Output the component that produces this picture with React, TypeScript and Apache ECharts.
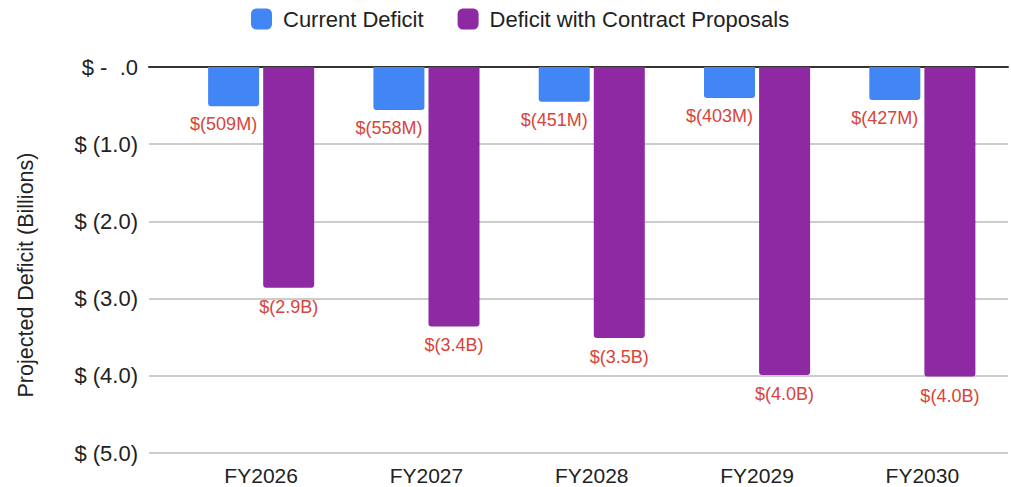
import React, { useEffect, useRef } from "react";
import * as echarts from "echarts";

const categories = ["FY2026", "FY2027", "FY2028", "FY2029", "FY2030"];
const currentDeficit = [-0.509, -0.558, -0.451, -0.403, -0.427];
const proposalDeficit = [-2.86, -3.36, -3.51, -3.99, -4.01];
const seriesNames = ["Current Deficit", "Deficit with Contract Proposals"];
const yTicks = [0, -1, -2, -3, -4, -5];

const FONT = "'Liberation Sans', Arial, sans-serif";

function yLabel(v: number): string {
  if (v === 0) return "$ -  .0";
  return "$ (" + Math.abs(v).toFixed(1) + ")";
}

export default function App() {
  const ref = useRef<HTMLDivElement>(null);
  useEffect(() => {
    if (!ref.current) return;
    const chart = echarts.init(ref.current, undefined, { renderer: "svg" });
    const yMin = yTicks[yTicks.length - 1];
    const yMax = yTicks[0];
    chart.setOption({
      animation: false,
      backgroundColor: "#ffffff",
      textStyle: { fontFamily: FONT },
      legend: {
        top: 3,
        left: 246,
        icon: "roundRect",
        itemWidth: 21,
        itemHeight: 21,
        itemGap: 34,
        textStyle: { fontSize: 22, color: "#222", fontFamily: FONT, padding: [0, 0, 0, 6] },
        data: seriesNames,
      },
      grid: [
        { left: 149, right: 3, top: 67, bottom: 34 },
        { left: 178.5, right: 6, top: 67, bottom: 34 },
      ],
      xAxis: [
        {
          gridIndex: 0,
          type: "value",
          min: 0,
          max: 1,
          axisLine: { show: true, onZero: true, lineStyle: { color: "#333", width: 2 } },
          axisTick: { show: false },
          axisLabel: { show: false },
          splitLine: { show: false },
        },
        {
          gridIndex: 1,
          type: "category",
          data: categories,
          position: "bottom",
          axisLine: { show: false, onZero: false },
          axisTick: { show: false },
          axisLabel: { fontSize: 21, color: "#222", margin: 12, fontFamily: FONT },
        },
      ],
      yAxis: [
        {
          gridIndex: 0,
          type: "value",
          min: yMin,
          max: yMax,
          interval: 1,
          axisLine: { show: false },
          axisTick: { show: false },
          axisLabel: {
            formatter: yLabel,
            fontSize: 22,
            color: "#222",
            margin: 11,
            fontFamily: FONT,
          },
          splitLine: { show: true, lineStyle: { color: "#cccccc", width: 2 } },
          name: "Projected Deficit (Billions)",
          nameLocation: "middle",
          nameGap: 112,
          nameTextStyle: { fontSize: 21.5, color: "#222", fontFamily: FONT, padding: [0, 30, 0, 0] },
        },
        {
          gridIndex: 1,
          type: "value",
          min: yMin,
          max: yMax,
          interval: 1,
          show: false,
          splitLine: { show: false },
        },
      ],
      series: [
        {
          name: seriesNames[0],
          type: "bar",
          xAxisIndex: 1,
          yAxisIndex: 1,
          data: currentDeficit,
          barWidth: 51,
          barGap: "8%",
          itemStyle: { color: "#4285f4", borderRadius: [0, 0, 3, 3] },
          label: {
            show: true,
            position: "bottom",
            distance: 9,
            offset: [-10, 0],
            color: "#d9443a",
            fontSize: 18,
            fontFamily: FONT,
            formatter: (p: any) => "$(" + Math.round(Math.abs(p.value) * 1000) + "M)",
          },
        },
        {
          name: seriesNames[1],
          type: "bar",
          xAxisIndex: 1,
          yAxisIndex: 1,
          data: proposalDeficit,
          barWidth: 51,
          barGap: "8%",
          itemStyle: { color: "#8e29a3", borderRadius: [0, 0, 3, 3] },
          label: {
            show: true,
            position: "bottom",
            distance: 10,
            color: "#d9443a",
            fontSize: 18,
            fontFamily: FONT,
            formatter: (p: any) => "$(" + Math.abs(p.value).toFixed(1) + "B)",
          },
        },
      ],
    });
    return () => chart.dispose();
  }, []);
  return (
    <div
      ref={ref}
      style={{ position: "fixed", left: 0, top: 0, width: 1011, height: 487 }}
    />
  );
}
